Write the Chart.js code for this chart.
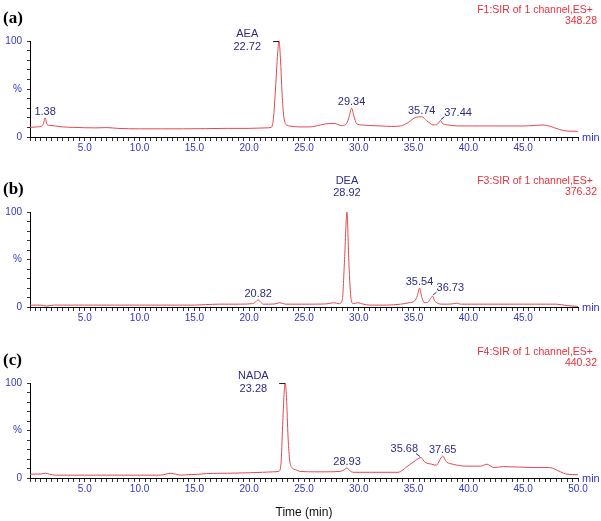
<!DOCTYPE html>
<html>
<head>
<meta charset="utf-8">
<script src="https://cdn.jsdelivr.net/npm/chart.js@4"></script>
<style>
html, body { margin: 0; padding: 0; background: #fff; }
#wrap { position: relative; width: 601px; height: 521px; }
.panel { position: absolute; left: 0; width: 601px; }
</style>
</head>
<body>
<div id="wrap">
	<div class="panel" style="top:0;height:171px"><canvas id="chart_a"></canvas></div>
	<div class="panel" style="top:171px;height:171px"><canvas id="chart_b"></canvas></div>
	<div class="panel" style="top:342px;height:179px"><canvas id="chart_c"></canvas></div>
</div>
<script>
// ===========================================
// Data
// ===========================================

// (a) AEA, m/z 348.28
var a_time = [0, 0.6, 1.0, 1.2, 1.38, 1.55, 1.8, 2.3, 3.0, 4.0, 6.0, 7.0, 8.0, 10.0, 12.0, 14.0, 16.0, 18.0, 20.0, 21.5,
	22.0, 22.2, 22.4, 22.6, 22.72, 22.85, 23.0, 23.15, 23.35, 23.7, 24.5, 25.5, 26.5, 27.2, 27.8, 28.4, 28.8, 29.1, 29.34, 29.55,
	29.8, 30.3, 31.0, 32.0, 33.0, 33.8, 34.5, 35.1, 35.74, 36.2, 36.8, 37.2, 37.44, 37.7, 38.2, 39.0, 41.0, 43.0, 45.0, 46.0,
	46.8, 47.5, 48.0, 48.6, 49.3, 50.0];
var a_int = [10, 10.5, 11, 13, 20, 13, 12, 11.5, 10.5, 10, 9.5, 9.8, 9, 8.5, 8.5, 8.5, 8.7, 9, 9, 9.5,
	10, 18, 50, 88, 100, 82, 45, 22, 13, 11.5, 10.5, 10.5, 12.5, 14, 14, 12, 13, 20, 30, 22,
	14, 12.5, 12, 11.5, 11, 11.5, 15, 20, 21, 17, 12.5, 13.5, 17, 13.5, 12.5, 11.5, 11.5, 11.5, 11.5, 12,
	12.5, 11, 9, 7, 6, 6];
var a_peak_time = [1.38, 22.72, 29.34, 35.74, 37.44];
var a_peak_int = [20, 100, 30, 21, 17];
var a_peak_name = ["", "AEA", "", "", ""];

// (b) DEA, m/z 376.32
var b_time = [0, 1.0, 1.5, 2.2, 5.0, 10.0, 15.0, 16.0, 17.3, 19.0, 20.3, 20.6, 20.82, 21.05, 21.3, 22.3, 22.8, 23.3, 25.0, 27.0,
	27.7, 28.2, 28.5, 28.7, 28.92, 29.1, 29.3, 29.5, 29.9, 30.4, 31.0, 32.5, 33.8, 34.6, 35.1, 35.35, 35.54, 35.75, 36.0, 36.3,
	36.55, 36.73, 36.9, 37.1, 37.7, 38.5, 38.9, 39.3, 41.0, 45.0, 48.0, 49.0, 50.0];
var b_int = [2, 2, 1, 2, 2, 2, 2, 2.5, 3, 3, 3.5, 5.5, 7.5, 5, 3, 3.2, 4.5, 3, 3, 3.2,
	4.5, 3.5, 8, 50, 100, 45, 8, 3.5, 4.5, 3, 2, 2, 3, 4.5, 6.5, 12, 20, 10, 4.5, 5,
	9, 11.5, 7, 4.5, 3, 3.2, 4, 3, 3, 3, 3, 1.5, 0.5];
var b_peak_time = [20.82, 28.92, 35.54, 36.73];
var b_peak_int = [7.5, 100, 20, 11.5];
var b_peak_name = ["", "DEA", "", ""];

// (c) NADA, m/z 440.32
var c_time = [0, 1.0, 1.4, 1.8, 2.3, 5.0, 8.0, 11.9, 12.4, 12.8, 13.3, 13.8, 14.5, 15.5, 16.1, 18.0, 20.0, 21.2, 22.2, 22.7,
	22.9, 23.05, 23.18, 23.28, 23.4, 23.55, 23.7, 23.9, 24.3, 24.6, 26.0, 27.0, 28.3, 28.65, 28.93, 29.2, 29.5, 31.0, 33.6, 34.4,
	35.0, 35.3, 35.68, 36.0, 36.65, 37.1, 37.35, 37.65, 38.0, 38.6, 39.8, 41.1, 41.7, 42.3, 43.2, 45.9, 47.4, 48.4, 49.0, 50.0];
var c_int = [4, 4.2, 5, 4, 3, 3, 3, 3, 4, 5, 4, 3, 3.5, 4, 4.7, 5, 5.5, 6, 6.5, 7,
	15, 55, 88, 100, 85, 42, 18, 11, 8.5, 7, 6.5, 6.5, 7, 8.5, 10.5, 7.5, 6, 6, 6, 12,
	17, 19.5, 21.5, 17, 14.5, 13.5, 18, 23, 17, 14.5, 12.5, 12.5, 14.5, 11, 12, 11, 11, 6.5, 4, 3.5];
var c_peak_time = [23.28, 28.93, 35.68, 37.65];
var c_peak_int = [100, 10.5, 21.5, 23];
var c_peak_name = ["NADA", "", "", ""];

// ===========================================
// Styles
// ===========================================
var trace_color = "#e4484f";
var tick_blue = "#3434c8";
var label_navy = "#2c2c84";
var channel_red = "#e8303a";
var sans = '"Liberation Sans", Arial, sans-serif';

// ===========================================
// Plugin: panel letter, channel text, "min", peak labels
// ===========================================
var chromText = {
	id: "chromText",
	afterDraw: function (chart, args, opts) {
		var ctx = chart.ctx;
		var area = chart.chartArea;
		var xs = chart.scales.x;
		var ys = chart.scales.y;
		ctx.save();

		ctx.font = 'bold 17px "Liberation Serif", "DejaVu Serif", serif';
		ctx.fillStyle = "#000";
		ctx.textAlign = "left";
		ctx.textBaseline = "middle";
		ctx.fillText(opts.letter, 3, area.top - 22);

		ctx.font = "10.5px " + sans;
		ctx.fillStyle = channel_red;
		ctx.textAlign = "right";
		ctx.fillText(opts.channel, chart.width - 8, area.top - 31);
		ctx.fillText(opts.mass, chart.width - 4, area.top - 19.5);

		ctx.font = "11px " + sans;
		ctx.fillStyle = tick_blue;
		ctx.textAlign = "left";
		ctx.fillText("min", area.right + 4, area.bottom + 1);

		ctx.font = "11px " + sans;
		ctx.fillStyle = label_navy;
		ctx.strokeStyle = label_navy;
		ctx.lineWidth = 1;
		for (var i = 0; i < opts.times.length; i++) {
			var px = xs.getPixelForValue(opts.times[i]);
			var py = ys.getPixelForValue(opts.heights[i]);
			var num = opts.times[i].toFixed(2);
			var name = opts.names[i];
			var place = opts.place[i];
			if (place == "left") {
				var w = ctx.measureText(num).width;
				var cx = px - 18 - w / 2;
				ctx.textAlign = "center";
				ctx.fillText(num, cx, py + 6);
				if (name) ctx.fillText(name, cx, py - 7);
				ctx.strokeStyle = "#222";
				ctx.beginPath();
				ctx.moveTo(px - 6, py + 0.5);
				ctx.lineTo(px, py + 0.5);
				ctx.stroke();
				ctx.strokeStyle = label_navy;
			} else if (place == "right") {
				ctx.textAlign = "left";
				ctx.fillText(num, px + 4, py - 8);
				ctx.beginPath();
				ctx.moveTo(px + 0.5, py - 1);
				ctx.lineTo(px + 4, py - 4);
				ctx.stroke();
			} else if (place == "upleft") {
				ctx.textAlign = "right";
				ctx.fillText(num, px - 3, py - 9);
				ctx.beginPath();
				ctx.moveTo(px - 1, py - 1);
				ctx.lineTo(px - 5, py - 4);
				ctx.stroke();
			} else {
				var lift = place == "high" ? 13 : 0;
				ctx.textAlign = "center";
				ctx.fillText(num, px, py - 6 - lift);
				if (name) ctx.fillText(name, px, py - 18.5 - lift);
			}
		}
		ctx.restore();
	}
};

// ===========================================
// Functions
// ===========================================
function createChromChart(id, times, ints, text, axisHeight, bottomPad, lastLabel, showTitle) {
	var points = times.map(function (t, i) { return { x: t, y: ints[i] }; });
	new Chart(document.getElementById(id), {
		type: "line",
		data: {
			datasets: [{
				data: points,
				borderColor: trace_color,
				borderWidth: 1,
				pointRadius: 0,
				cubicInterpolationMode: "monotone",
				fill: false
			}]
		},
		options: {
			responsive: true,
			maintainAspectRatio: false,
			animation: false,
			layout: { padding: { top: 41, right: 23, bottom: bottomPad, left: 0 } },
			plugins: {
				legend: { display: false },
				tooltip: { enabled: false },
				chromText: text
			},
			scales: {
				x: {
					type: "linear",
					min: 0,
					max: 50,
					border: { color: "#000", width: 1 },
					grid: { drawOnChartArea: false, tickLength: 4, tickColor: "#333" },
					ticks: {
						stepSize: 0.5,
						autoSkip: false,
						maxRotation: 0,
						padding: 1,
						color: tick_blue,
						font: { size: 10, family: sans },
						callback: function (v) {
							if (v > 0 && v % 5 === 0 && (v < 50 || lastLabel)) return v.toFixed(1);
							return "";
						}
					},
					title: {
						display: showTitle,
						text: "Time (min)",
						color: "#111",
						font: { size: 12, family: sans },
						padding: { top: 2, bottom: 1 }
					},
					afterFit: function (s) { s.height = axisHeight; }
				},
				y: {
					min: 0,
					max: 100,
					border: { color: "#000", width: 1 },
					grid: { drawOnChartArea: false, tickLength: 3, tickColor: "#333" },
					ticks: {
						stepSize: 10,
						autoSkip: false,
						padding: 5,
						color: tick_blue,
						font: { size: 10, family: sans },
						callback: function (v) {
							if (v === 0) return "0";
							if (v === 50) return "%";
							if (v === 100) return "100";
							return "";
						}
					},
					afterFit: function (s) { s.width = 30; }
				}
			}
		},
		plugins: [chromText]
	});
}

createChromChart("chart_a", a_time, a_int, {
	letter: "(a)", channel: "F1:SIR of 1 channel,ES+", mass: "348.28",
	times: a_peak_time, heights: a_peak_int, names: a_peak_name,
	place: ["up", "left", "up", "up", "right"]
}, 20, 14, false, false);

createChromChart("chart_b", b_time, b_int, {
	letter: "(b)", channel: "F3:SIR of 1 channel,ES+", mass: "376.32",
	times: b_peak_time, heights: b_peak_int, names: b_peak_name,
	place: ["up", "high", "up", "right"]
}, 20, 15, false, false);

createChromChart("chart_c", c_time, c_int, {
	letter: "(c)", channel: "F4:SIR of 1 channel,ES+", mass: "440.32",
	times: c_peak_time, heights: c_peak_int, names: c_peak_name,
	place: ["left", "up", "upleft", "up"]
}, 43, 0, true, true);
</script>
</body>
</html>
